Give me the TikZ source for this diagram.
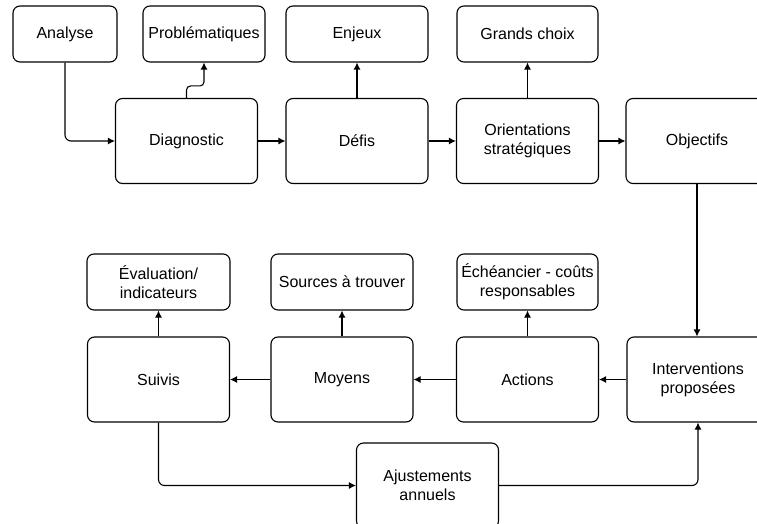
\documentclass[tikz,border=0pt]{standalone}
\usepackage{fontspec}
\setmainfont{Liberation Sans}
\usetikzlibrary{arrows.meta, positioning}

\tikzset{
  box/.style={draw, line width=1.1pt, rounded corners=7pt, align=center,
              font=\fontsize{16}{19}\selectfont, inner sep=1pt},
  bigbox/.style={box, minimum width=142pt, minimum height=85pt},
  smallbox/.style={box, minimum height=56pt},
  arr/.style={-{Latex[length=7pt,width=7pt]}, line width=1.1pt, rounded corners=6pt}
}

\begin{document}
\begin{tikzpicture}[x=1pt, y=-1pt]

  % Page frame (the right and bottom boxes are cut by it)
  \useasboundingbox (0,0) rectangle (757,524);
  \fill[white] (0,0) rectangle (757,524);
  \clip (0,0) rectangle (757,524);

  % Main steps, first row
  \node[bigbox] (diag) at (186.5,141) {Diagnostic};
  \node[bigbox] (defis) at (357,141) {Défis};
  \node[bigbox] (orient) at (527.5,141) {Orientations\\stratégiques};
  \node[bigbox] (obj) at (697,141) {Objectifs};

  % Main steps, second row
  \node[bigbox] (suiv) at (158.5,379.5) {Suivis};
  \node[bigbox] (moy) at (342,379.5) {Moyens};
  \node[bigbox] (act) at (527.5,379.5) {Actions};
  \node[bigbox] (inter) at (698,379.5) {Interventions\\proposées};
  \node[bigbox] (ajust) at (427.5,485.5) {Ajustements\\annuels};

  % Side boxes (inputs and outputs of the steps)
  \node[smallbox, minimum width=104pt] (ana) at (65,34) {Analyse};
  \node[smallbox, minimum width=122pt] (prob) at (204,34) {Problématiques};
  \node[smallbox, minimum width=142pt] (enj) at (357,34) {Enjeux};
  \node[smallbox, minimum width=141pt] (gc) at (527.5,34) {Grands choix};
  \node[smallbox, minimum width=143pt] (eval) at (158.5,282) {Évaluation/\\indicateurs};
  \node[smallbox, minimum width=142pt] (src) at (342,282) {Sources à trouver};
  \node[smallbox, minimum width=141pt] (ech) at (527.5,282) {Échéancier - coûts\\responsables};

  % First row
  \draw[arr] (ana.south) |- (diag.west);
  \draw[arr] (diag) -- (defis);
  \draw[arr] (defis) -- (orient);
  \draw[arr] (orient) -- (obj);
  \draw[arr, rounded corners=4pt] (diag.north) -- ++(0,-12) -| (prob.south);
  \draw[arr] (defis.north) -- (enj.south);
  \draw[arr] (orient.north) -- (gc.south);

  % Down to the second row
  \draw[arr] (obj.south) -- (obj.south |- inter.north);

  % Second row, right to left
  \draw[arr] (inter) -- (act);
  \draw[arr] (act) -- (moy);
  \draw[arr] (moy) -- (suiv);
  \draw[arr] (suiv.north) -- (eval.south);
  \draw[arr] (moy.north) -- (src.south);
  \draw[arr] (act.north) -- (ech.south);

  % Yearly loop
  \draw[arr] (suiv.south) |- (ajust.west);
  \draw[arr] (ajust.east) -| (inter.south);
\end{tikzpicture}
\end{document}
